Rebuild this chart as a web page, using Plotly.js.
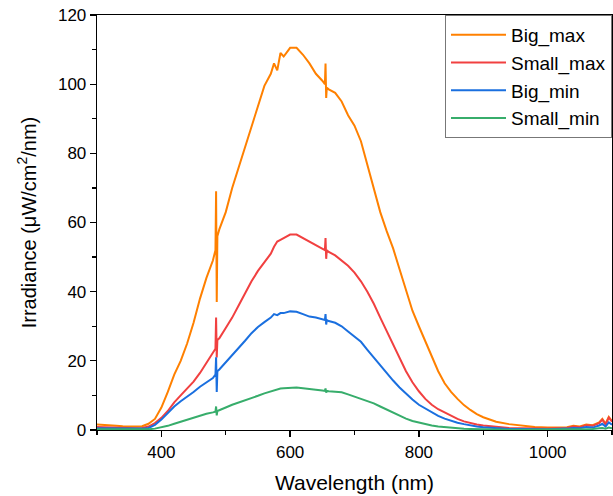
<!DOCTYPE html>
<html>
<head>
<meta charset="utf-8">
<script src="https://cdn.plot.ly/plotly-3.0.1.min.js"></script>
<style>html,body{margin:0;padding:0;background:#fff;}#chart{width:613px;height:496px;}</style>
</head>
<body>
<div id="chart"></div>
<script>
const wavelength = [300,310,320,330,340,350,360,370,380,390,400,410,420,430,440,450,460,470,480,484,485,486,487,490,500,510,520,530,540,550,560,570,575,580,585,590,600,610,620,630,640,650,654,655,656,657,660,670,680,690,700,710,720,730,740,750,760,770,780,790,800,810,820,830,840,850,860,870,880,890,900,920,940,960,980,1000,1010,1020,1030,1040,1050,1060,1070,1080,1085,1090,1095,1100];

const bigMax = [1.6,1.4,1.3,1.2,1.1,1.0,1.0,1.1,1.8,3.2,6.5,11,16,20,25,31,38,44,49,52,69,37,56,58,63,70,76,82,88,94,99.5,103,106,104,109,108,110.5,110.5,108.5,106,103,101,100,106,96,99,98.5,97.5,95,91,88,83.5,76.5,70,63,57.5,52.5,46.5,40.5,34.5,30,25.5,21,17,13.5,11,9,7.2,5.8,4.6,3.7,2.4,1.7,1.2,0.9,0.7,0.6,0.7,0.8,1.2,1.0,1.6,1.4,2.2,3.2,1.8,3.8,2.6];

const smallMax = [0.9,0.8,0.7,0.6,0.6,0.5,0.5,0.6,1.0,2.0,3.5,5.5,8,10,12,14,16.5,19.4,22,23.5,32.5,21,26,26.5,29.5,32.5,36,39.5,43,46,48.5,51,53,54.5,55,55.5,56.5,56.5,55.5,54.5,53.5,52.5,52,55.5,49.5,52,51.5,50.5,49,47.5,45.5,43,40,36.5,32.5,28.5,25,21,17,13.8,11.2,9,7.3,6,5,4,3.2,2.5,2,1.6,1.3,0.9,0.6,0.5,0.4,0.4,0.5,0.5,0.6,1.0,0.8,1.4,1.2,2.0,3.0,1.6,3.6,2.4];

const bigMin = [0.5,0.5,0.4,0.4,0.4,0.3,0.3,0.4,0.6,1.5,3,5,6.8,8.3,9.6,11,12.5,13.8,15,16,21,11,17,17.5,19.5,21.5,23.5,25.8,28,29.8,31.2,32.5,33.5,33.2,33.8,33.8,34.3,34.2,33.5,32.8,32.5,32,31.8,33.5,30.5,31.8,31.5,31,30,28.5,27,25.5,23.2,21,18.5,16.3,14.3,12.3,10.5,8.8,7.3,6.2,5,4.1,3.3,2.6,2.1,1.7,1.3,1.0,0.8,0.5,0.3,0.3,0.2,0.2,0.3,0.3,0.4,0.6,0.5,0.9,0.7,1.3,1.8,1.0,2.2,1.5];

const smallMin = [0.2,0.2,0.2,0.2,0.2,0.15,0.15,0.15,0.2,0.4,0.7,1.2,1.8,2.4,3.0,3.6,4.2,4.7,5.1,5.3,6.8,4.2,5.5,5.7,6.5,7.3,7.9,8.6,9.3,9.9,10.6,11.2,11.5,11.8,12,12.1,12.3,12.3,12.1,11.8,11.6,11.4,11.3,12,10.8,11.3,11.2,11.1,10.9,10.3,9.7,9.0,8.3,7.7,6.8,5.9,4.9,4.1,3.3,2.6,2.1,1.6,1.3,1.0,0.8,0.6,0.45,0.35,0.3,0.25,0.2,0.15,0.1,0.1,0.1,0.1,0.1,0.15,0.15,0.2,0.2,0.3,0.3,0.5,0.6,0.4,0.7,0.5];

const seriesNames = ["Big_max","Small_max","Big_min","Small_min"];
const seriesData = [bigMax, smallMax, bigMin, smallMin];
const seriesColors = ["#FF8000","#F14040","#1A6FDF","#37AD6B"];

const traces = seriesData.map((ys, i) => ({
  x: wavelength, y: ys, type: "scatter", mode: "lines",
  name: seriesNames[i],
  line: {color: seriesColors[i], width: 2}
}));

const fontFam = "Liberation Sans, Arial, sans-serif";
const layout = {
  width: 613, height: 496,
  margin: {l: 97, r: 1, t: 15, b: 66},
  paper_bgcolor: "#fff", plot_bgcolor: "#fff",
  font: {family: fontFam, color: "#000", size: 17},
  showlegend: true,
  legend: {x: 1, xanchor: "right", y: 1, yanchor: "top",
    bordercolor: "#777", borderwidth: 1, bgcolor: "#fff",
    itemwidth: 55,
    font: {family: fontFam, size: 19, color: "#000"}},
  xaxis: {
    range: [300, 1100], dtick: 200, tick0: 0,
    showgrid: false, zeroline: false,
    showline: true, linecolor: "#000", linewidth: 1.3, mirror: true,
    ticks: "outside", ticklen: 6, tickwidth: 1.3, tickcolor: "#000",
    minor: {ticks: "outside", ticklen: 4, dtick: 100, tickcolor: "#000", tickwidth: 1.3},
    tickfont: {size: 17},
    title: {text: "Wavelength (nm)", font: {size: 21}, standoff: 14}
  },
  yaxis: {
    range: [0, 120], dtick: 20, tick0: 0,
    showgrid: false, zeroline: false,
    showline: true, linecolor: "#000", linewidth: 1.3, mirror: true,
    ticks: "outside", ticklen: 6, tickwidth: 1.3, tickcolor: "#000",
    minor: {ticks: "outside", ticklen: 4, dtick: 10, tickcolor: "#000", tickwidth: 1.3},
    tickfont: {size: 17},
    title: {text: "Irradiance (\u03bcW/cm<sup>2</sup>/nm)", font: {size: 20}, standoff: 16}
  }
};

Plotly.newPlot("chart", traces, layout, {displayModeBar: false, staticPlot: true});
</script>
</body>
</html>
